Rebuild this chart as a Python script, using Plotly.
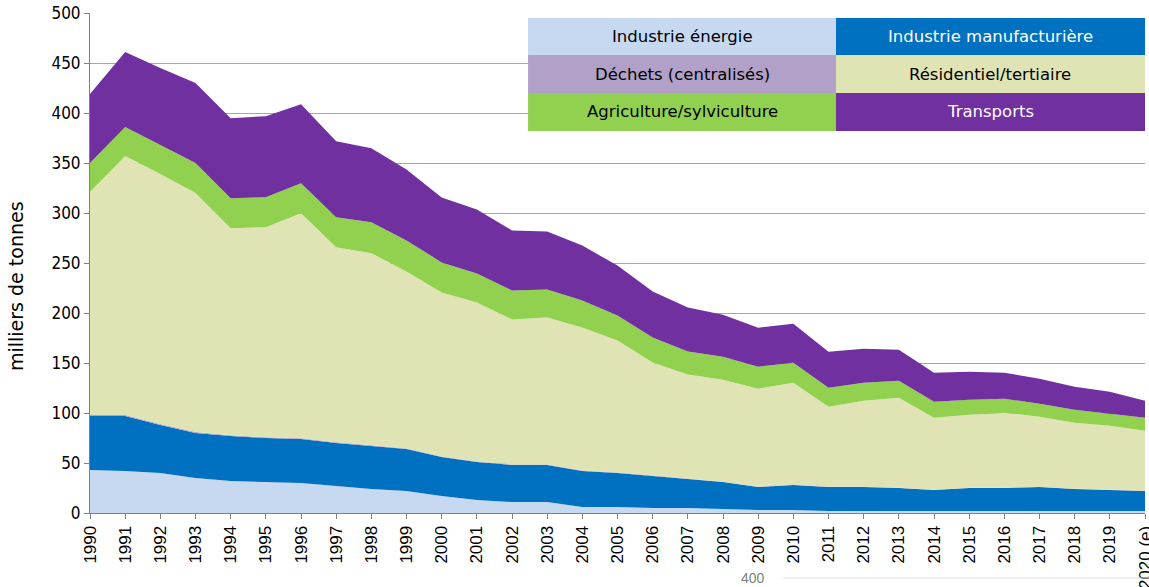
import plotly.graph_objects as go

# emissions par secteur, milliers de tonnes
years = list(range(1990, 2021))
tick_labels = [str(y) for y in years[:-1]] + ["2020 (e)"]

energie = [43, 42, 40, 35, 32, 31, 30, 27, 24, 22, 17, 13, 11, 11, 6, 6, 5, 5, 4, 3, 3,
           2, 2, 2, 2, 2, 2, 2, 2, 2, 2]
manufacturiere = [54, 55, 48, 45, 45, 44, 44, 43, 43, 42, 39, 38, 37, 37, 36, 34, 32, 29, 27, 23, 25,
                  24, 24, 23, 21, 23, 23, 24, 22, 21, 20]
dechets = [1.0, 1.0, 0.9, 0.9, 0.8, 0.8, 0.8, 0.7, 0.7, 0.6, 0.6, 0.5, 0.5, 0.5, 0.4, 0.4, 0.4, 0.4, 0.3, 0.3, 0.3,
           0.3, 0.3, 0.3, 0.3, 0.3, 0.3, 0.3, 0.3, 0.3, 0.3]
residentiel = [223, 259, 250, 239, 207, 210, 225, 195, 192, 177, 164, 159, 145, 147, 143, 132, 113, 104, 102, 98, 102,
               80, 86, 90, 72, 73, 75, 70, 66, 64, 60]
agriculture = [29, 29, 29, 30, 30, 30, 30, 30, 31, 31, 30, 29, 29, 28, 27, 25, 25, 23, 23, 22, 20,
               19, 18, 17, 16, 15, 14, 13, 13, 12, 13]
transports = [69, 75, 77, 80, 80, 81, 79, 76, 74, 71, 65, 64, 60, 58, 55, 50, 46, 44, 42, 39, 39,
              36, 34, 31, 29, 28, 26, 25, 23, 22, 17]

series = [
    ("Industrie énergie", energie, "#C6D9F1", "black"),
    ("Industrie manufacturière", manufacturiere, "#0070C0", "white"),
    ("Déchets (centralisés)", dechets, "#B1A0C7", "black"),
    ("Résidentiel/tertiaire", residentiel, "#E0E4B4", "black"),
    ("Agriculture/sylviculture", agriculture, "#92D050", "black"),
    ("Transports", transports, "#7030A0", "white"),
]

fig = go.Figure()
for name, vals, color, _ in series:
    fig.add_trace(go.Scatter(x=years, y=vals, name=name, mode="lines", stackgroup="one",
                             line=dict(width=0, color=color), fillcolor=color))

# legend drawn as a 2 x 3 table of coloured cells
x_edges = [0.4152, 0.7071, 1.0]
y_edges = [0.99, 0.916, 0.84, 0.764]
shapes = []
annotations = []
for i, (name, _, color, txt) in enumerate(series):
    col, row = i % 2, i // 2
    shapes.append(dict(type="rect", xref="paper", yref="paper", layer="above",
                       x0=x_edges[col], x1=x_edges[col + 1], y0=y_edges[row + 1], y1=y_edges[row],
                       fillcolor=color, line=dict(width=0)))
    annotations.append(dict(xref="paper", yref="paper", showarrow=False, xanchor="center", yanchor="middle",
                            x=(x_edges[col] + x_edges[col + 1]) / 2, y=(y_edges[row] + y_edges[row + 1]) / 2,
                            text=name, font=dict(family="DejaVu Sans", size=16.5, color=txt)))

annotations.append(dict(xref="paper", yref="paper", x=-0.0701, y=0.454, showarrow=False, textangle=-90,
                        xanchor="center", yanchor="middle",
                        text="milliers de tonnes", font=dict(family="DejaVu Sans", size=19, color="black")))
# bit of the next chart peeking in at the bottom
annotations.append(dict(xref="paper", yref="paper", x=0.628, y=-0.13, showarrow=False,
                        xanchor="center", yanchor="middle",
                        text="400", font=dict(family="Liberation Sans", size=14, color="#7F7F7F")))
shapes.append(dict(type="line", xref="paper", yref="paper", x0=0.657, x1=1.01, y0=-0.13, y1=-0.13,
                   line=dict(color="#D9D9D9", width=1)))

fig.update_layout(
    width=1149, height=587,
    margin=dict(l=90, r=4, t=13, b=74),
    paper_bgcolor="white", plot_bgcolor="white",
    showlegend=False,
    shapes=shapes, annotations=annotations,
    xaxis=dict(range=[1990, 2020], tickvals=years, ticktext=tick_labels, tickangle=-90,
               showgrid=False, zeroline=False, showline=True, linecolor="#808080",
               ticks="outside", ticklen=5, tickcolor="#808080", automargin=False,
               ticklabeloverflow="allow",
               tickfont=dict(family="Liberation Sans", size=17, color="black")),
    yaxis=dict(range=[0, 500], dtick=50, showgrid=True, gridcolor="#A6A6A6", zeroline=False,
               showline=True, linecolor="#808080", ticks="outside", ticklen=5, tickcolor="#808080",
               automargin=False, ticklabeloverflow="allow",
               tickfont=dict(family="DejaVu Sans Condensed, DejaVu Sans", size=17, color="black")),
)

# drop the default 8px body margin so the figure sits flush in the window
fig.write_html("out.html", config={"displayModeBar": False},
               post_script="document.body.style.margin='0';")
